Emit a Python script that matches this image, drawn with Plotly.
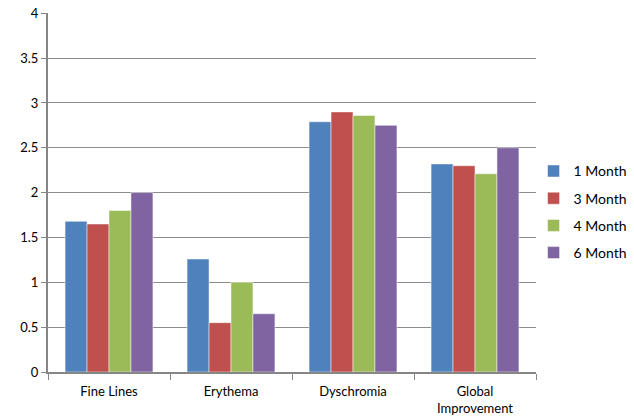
import plotly.graph_objects as go

categories = ["Fine Lines", "Erythema", "Dyschromia", "Global<br>Improvement"]
series_names = ["1 Month", "3 Month", "4 Month", "6 Month"]
m1 = [1.68, 1.26, 2.79, 2.32]
m3 = [1.65, 0.55, 2.90, 2.30]
m4 = [1.80, 1.00, 2.86, 2.21]
m6 = [2.00, 0.65, 2.75, 2.50]
values = [m1, m3, m4, m6]
colors = ["#4F81BD", "#C0504D", "#9BBB59", "#8064A2"]
y_ticks = [0, 0.5, 1, 1.5, 2, 2.5, 3, 3.5, 4]

fig = go.Figure()
for name, vals, col in zip(series_names, values, colors):
    fig.add_trace(go.Bar(
        name=name, x=categories, y=vals, legendgroup=name,
        marker=dict(color=col, line=dict(color="rgba(255,255,255,0.6)", width=0.8)),
    ))

fig.update_layout(
    width=634, height=419,
    margin=dict(l=48, r=98, t=13, b=47, autoexpand=False),
    paper_bgcolor="white", plot_bgcolor="white",
    barmode="group", bargap=0.28, bargroupgap=0,
    font=dict(family="Lato, 'Open Sans', sans-serif", size=13, color="#000000"),
    legend=dict(x=0.995, y=0.446, xanchor="left", yanchor="middle",
                font=dict(size=14), tracegroupgap=6, itemwidth=30,
                bgcolor="rgba(0,0,0,0)"),
    showlegend=True,
)
fig.update_xaxes(
    showline=True, linecolor="#868686", linewidth=2,
    ticks="outside", tickson="boundaries", ticklen=6, tickcolor="#868686",
    showgrid=False, automargin=False, ticklabelstandoff=6,
    tickfont=dict(size=13),
)
fig.update_yaxes(
    range=[0, 4.003], tickvals=y_ticks, ticktext=[f"{v:g}" for v in y_ticks],
    showgrid=True, gridcolor="#8c8c8c", gridwidth=1,
    showline=True, linecolor="#868686", linewidth=2,
    ticks="outside", ticklen=5, tickcolor="#868686",
    zeroline=False, automargin=False, tickfont=dict(size=13),
)
fig.write_html("out.html", config={"displayModeBar": False},
               post_script="document.body.style.margin='0';")
